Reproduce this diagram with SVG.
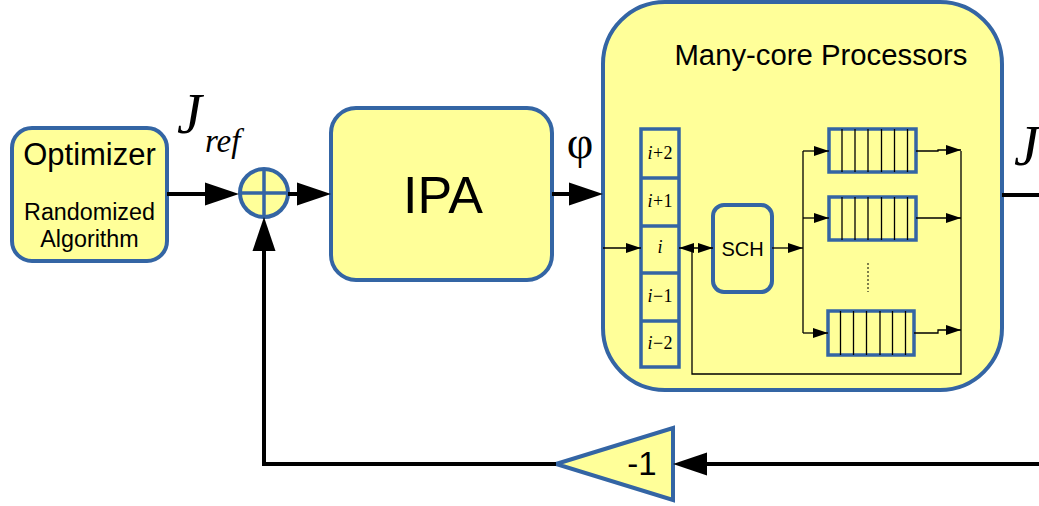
<svg xmlns="http://www.w3.org/2000/svg" width="1039" height="506" viewBox="0 0 1039 506">
<style>
.blk{fill:#ffff99;stroke:#3465a4;stroke-width:4}
.cell{fill:none;stroke:#3465a4;stroke-width:3.5}
.q{fill:#ffff99;stroke:#3465a4;stroke-width:3.5}
.div{stroke:#000;stroke-width:1.3}
.main{fill:none;stroke:#000;stroke-width:4}
.thin{fill:none;stroke:#000;stroke-width:1.3}
.sans{font-family:"Liberation Sans",Arial,sans-serif;fill:#000}
.serif{font-family:"Liberation Serif","Times New Roman",serif;fill:#000}
</style>
<defs>
<marker id="big" markerUnits="userSpaceOnUse" markerWidth="36" markerHeight="24" refX="0" refY="11.5" orient="auto" overflow="visible">
<path d="M0,0 L34,11.5 L0,23 Z" fill="#000"/>
</marker>
<marker id="sm" markerUnits="userSpaceOnUse" markerWidth="16" markerHeight="10" refX="15" refY="5" orient="auto" overflow="visible">
<path d="M0,0 L15,5 L0,10 Z" fill="#000"/>
</marker>
<marker id="smr" markerUnits="userSpaceOnUse" markerWidth="16" markerHeight="10" refX="15" refY="5" orient="auto-start-reverse" overflow="visible">
<path d="M0,0 L15,5 L0,10 Z" fill="#000"/>
</marker>
</defs>

<g id="manycore">
<rect class="blk" x="603" y="2" width="399" height="388" rx="62" ry="62"/>
<text class="sans" x="821" y="65" font-size="29.3" text-anchor="middle">Many-core Processors</text>
</g>

<g id="optimizer">
<rect class="blk" x="12" y="128" width="155" height="133" rx="20" ry="20"/>
<text class="sans" x="89.5" y="165" font-size="31" text-anchor="middle">Optimizer</text>
<text class="sans" x="89.5" y="220" font-size="23.3" text-anchor="middle">Randomized</text>
<text class="sans" x="89.5" y="247" font-size="23.3" text-anchor="middle">Algorithm</text>
</g>

<g id="sum">
<circle cx="264" cy="193" r="24" fill="#ffff99" stroke="#3465a4" stroke-width="4"/>
<path d="M240,193 H288 M264,169 V217" stroke="#3465a4" stroke-width="3.5"/>
</g>

<g id="ipa">
<rect class="blk" x="331" y="108" width="221" height="172" rx="25" ry="25"/>
<text class="sans" x="443" y="213" font-size="52" text-anchor="middle">IPA</text>
</g>

<g id="gain">
<polygon class="blk" points="556,464 673,428 673,500" stroke-linejoin="miter"/>
<text class="sans" x="642" y="475" font-size="33" text-anchor="middle">-1</text>
</g>

<g id="stack">
<rect class="cell" x="641" y="129" width="38" height="238"/>
<path class="cell" d="M641,178 H679 M641,226 H679 M641,273 H679 M641,321 H679"/>
<g class="serif" font-size="18" text-anchor="middle">
<text x="660" y="159"><tspan font-style="italic">i</tspan><tspan dx="0.5">+</tspan><tspan dx="0.5">2</tspan></text>
<text x="660" y="207"><tspan font-style="italic">i</tspan><tspan dx="0.5">+</tspan><tspan dx="0.5">1</tspan></text>
<text x="660" y="253" font-style="italic">i</text>
<text x="660" y="302"><tspan font-style="italic">i</tspan><tspan dx="0.5">−</tspan><tspan dx="0.5">1</tspan></text>
<text x="660" y="349"><tspan font-style="italic">i</tspan><tspan dx="0.5">−</tspan><tspan dx="0.5">2</tspan></text>
</g>
</g>

<g id="sch">
<rect class="blk" x="713" y="205" width="59" height="87" rx="11" ry="11" stroke-width="3.5"/>
<text class="sans" x="742.5" y="256" font-size="20" text-anchor="middle">SCH</text>
</g>

<g id="queue1">
<rect class="q" x="829" y="129" width="87" height="43"/>
<path class="div" d="M842,129V172 M855,129V172 M868,129V172 M881.5,129V172 M894.5,129V172 M907.5,129V172"/>
</g>
<g id="queue2">
<rect class="q" x="829" y="197" width="87" height="43"/>
<path class="div" d="M842,197V240 M855,197V240 M868,197V240 M881.5,197V240 M894.5,197V240 M907.5,197V240"/>
</g>
<g id="queue3">
<rect class="q" x="828" y="311" width="86" height="44"/>
<path class="div" d="M840.5,311V355 M853.5,311V355 M866.5,311V355 M880,311V355 M892.5,311V355 M905.5,311V355"/>
</g>

<g id="connectors">
<path class="main" d="M167,194 H205" marker-end="url(#big)"/>
<path class="main" d="M288,194 H297" marker-end="url(#big)"/>
<path class="main" d="M552,194 H569" marker-end="url(#big)"/>
<path class="main" d="M1002,195 H1039"/>
<path class="main" d="M1039,464 H707"/>
<path d="M707,452.5 L673,464 L707,475.5 Z" fill="#000"/>
<path class="main" d="M556,464 H264 V251"/>
<path d="M252.5,251 L264,217 L275.5,251 Z" fill="#000"/>

<path class="thin" d="M603,248 H641" marker-end="url(#sm)"/>
<path class="thin" d="M679,248 H713" marker-start="url(#smr)" marker-end="url(#sm)"/>
<path class="thin" d="M692,248 V374 H961 V151"/>
<path class="thin" d="M772,248 H803" marker-end="url(#sm)"/>
<path class="thin" d="M803,151 V333"/>
<path class="thin" d="M803,151 H829" marker-end="url(#sm)"/>
<path class="thin" d="M803,218 H829" marker-end="url(#sm)"/>
<path class="thin" d="M803,333 H828" marker-end="url(#sm)"/>
<path class="thin" d="M916,151 H938 V150 H961" marker-end="url(#sm)"/>
<path class="thin" d="M916,218 H961" marker-end="url(#sm)"/>
<path class="thin" d="M914,333 H938 V330 H961" marker-end="url(#sm)"/>
<path d="M868,263 V292" stroke="#000" stroke-width="1" stroke-dasharray="2,2"/>
</g>

<g id="labels">
<text class="serif" x="177" y="133" font-size="56" font-style="italic">J</text>
<text class="serif" x="205" y="152" font-size="33" font-style="italic">ref</text>
<text class="serif" x="580" y="158" font-size="46" text-anchor="middle">φ</text>
<text class="serif" x="1014" y="165" font-size="56" font-style="italic">J</text>
</g>
</svg>
